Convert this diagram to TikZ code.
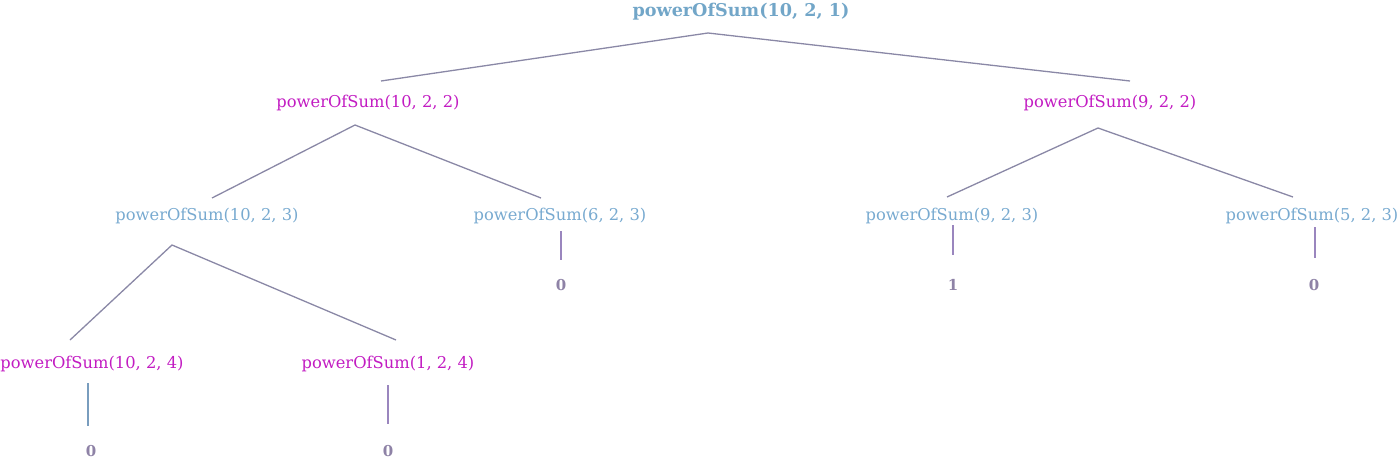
\documentclass[tikz,border=0pt]{standalone}
\usepackage{fontspec}
\setmainfont{DejaVu Serif}
\definecolor{cblue}{HTML}{72A6C8}
\definecolor{cblue2}{HTML}{78AAD0}
\definecolor{cmag}{HTML}{C21CC2}
\definecolor{cleaf}{HTML}{8E82A6}
\definecolor{cedge}{HTML}{8A88A6}
\definecolor{cvedge}{HTML}{9A86BE}
\begin{document}
\begin{tikzpicture}[x=1pt,y=-1pt,
  lbl/.style={inner sep=0pt, anchor=base, font=\fontsize{16.3}{19}\selectfont},
  rootlbl/.style={lbl, font=\fontsize{17.6}{20}\selectfont\bfseries, text=cblue},
  mag/.style={lbl, text=cmag},
  blu/.style={lbl, text=cblue2},
  leaf/.style={inner sep=0pt, anchor=center, font=\fontsize{15}{17}\selectfont\bfseries, text=cleaf},
  edge/.style={draw=cedge, line width=1.3pt},
  vedge/.style={draw=cvedge, line width=1.7pt}]
\useasboundingbox (0,0) rectangle (1400,460);
% labels
\node[rootlbl] (r) at (741,17) {powerOfSum(10, 2, 1)};
\node[mag] (n1) at (368,107) {powerOfSum(10, 2, 2)};
\node[mag] (n2) at (1110,107) {powerOfSum(9, 2, 2)};
\node[blu] (n11) at (207,220) {powerOfSum(10, 2, 3)};
\node[blu] (n12) at (560,220) {powerOfSum(6, 2, 3)};
\node[blu] (n21) at (952,220) {powerOfSum(9, 2, 3)};
\node[blu] (n22) at (1312,220) {powerOfSum(5, 2, 3)};
\node[mag] (n111) at (92,368) {powerOfSum(10, 2, 4)};
\node[mag] (n112) at (388,368) {powerOfSum(1, 2, 4)};
\node[leaf] (l12) at (561,285) {0};
\node[leaf] (l21) at (953,285) {1};
\node[leaf] (l22) at (1314,285) {0};
\node[leaf] (l111) at (91,451) {0};
\node[leaf] (l112) at (388,451) {0};
% connector end points
\coordinate (r-o) at (708,33);
\coordinate (n1-i) at (381,81);
\coordinate (n2-i) at (1130,81);
\coordinate (n1-o) at (355,125);
\coordinate (n11-i) at (212,198);
\coordinate (n12-i) at (541,198);
\coordinate (n2-o) at (1098,128);
\coordinate (n21-i) at (947,197);
\coordinate (n22-i) at (1293,197);
\coordinate (n11-o) at (172,245);
\coordinate (n111-i) at (70,340);
\coordinate (n112-i) at (396,340);
\coordinate (n12-o) at (561,231);
\coordinate (l12-i) at (561,260);
\coordinate (n21-o) at (953,225);
\coordinate (l21-i) at (953,255);
\coordinate (n22-o) at (1315,227);
\coordinate (l22-i) at (1315,258);
\coordinate (n111-o) at (88,383);
\coordinate (l111-i) at (88,426);
\coordinate (n112-o) at (388,385);
\coordinate (l112-i) at (388,424);
% connectors
\draw[edge] (n1-i) -- (r-o) -- (n2-i);
\draw[edge] (n11-i) -- (n1-o) -- (n12-i);
\draw[edge] (n21-i) -- (n2-o) -- (n22-i);
\draw[edge] (n111-i) -- (n11-o) -- (n112-i);
\draw[vedge] (n12-o) -- (l12-i);
\draw[vedge] (n21-o) -- (l21-i);
\draw[vedge] (n22-o) -- (l22-i);
\draw[vedge, draw=cblue!70!cedge] (n111-o) -- (l111-i);
\draw[vedge] (n112-o) -- (l112-i);
\end{tikzpicture}
\end{document}
